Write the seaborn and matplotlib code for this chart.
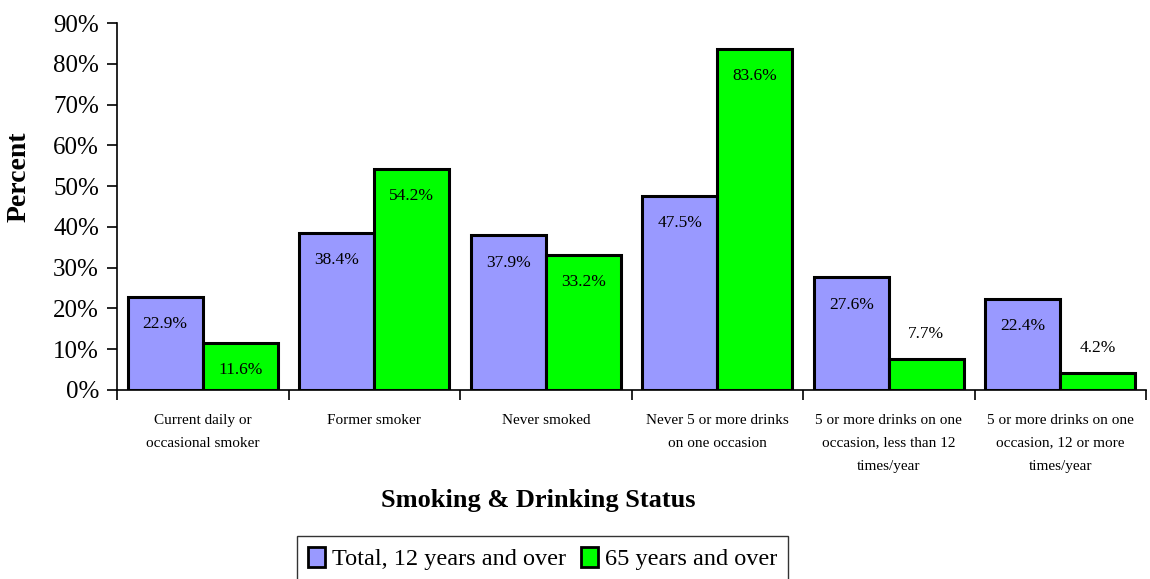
import numpy as np
import pandas as pd
import seaborn as sns
from matplotlib import pyplot as plt
from matplotlib.patches import Patch

# --------------------------- data ------------------------------- #
categories = [
    "Current daily or\noccasional smoker",
    "Former smoker",
    "Never smoked",
    "Never 5 or more drinks\non one occasion",
    "5 or more drinks on one\noccasion, less than 12\ntimes/year",
    "5 or more drinks on one\noccasion, 12 or more\ntimes/year",
]
groups = ["Total, 12 years and over", "65 years and over"]
total_12_over = [22.9, 38.4, 37.9, 47.5, 27.6, 22.4]
age_65_over = [11.6, 54.2, 33.2, 83.6, 7.7, 4.2]
ytick_vals = [0, 10, 20, 30, 40, 50, 60, 70, 80, 90]
ytick_labels = [f"{v}%" for v in ytick_vals]

colors = {groups[0]: "#9999FF", groups[1]: "#00FF00"}

df = pd.DataFrame({
    "Category": categories * 2,
    "Group": [groups[0]] * len(categories) + [groups[1]] * len(categories),
    "Percent": total_12_over + age_65_over,
})

# --------------------------- plot ------------------------------- #
sns.set_theme(style="white")
plt.rcParams['font.family'] = ['Liberation Serif', 'DejaVu Serif']
plt.rcParams.update({'text.color': 'black', 'axes.labelcolor': 'black',
                     'xtick.color': 'black', 'ytick.color': 'black'})

fig = plt.figure(figsize=(11.5, 5.79), dpi=100)
ax = fig.add_axes([117 / 1150, 1 - 390 / 579, (1146 - 117) / 1150, (390 - 23) / 579])

sns.barplot(
    data=df, x="Category", y="Percent", hue="Group",
    order=categories, hue_order=groups, palette=colors,
    width=0.875, gap=0, saturation=1,
    edgecolor="black", linewidth=2.2, legend=False, ax=ax,
)

# value labels: inside the bar, or above it for short bars
for cont, vals in zip(ax.containers, [total_12_over, age_65_over]):
    for bar, v in zip(cont, vals):
        cx = bar.get_x() + bar.get_width() / 2
        dy = -19.5 if v > 10 else 18
        ax.annotate(f"{v:.1f}%", (cx, v), xytext=(0, dy), textcoords="offset points",
                    ha="center", va="center", fontsize=12.5, color="black")

# axes styling
ax.set_ylim(0, 90)
ax.set_xlim(-0.5, len(categories) - 0.5)
ax.set_yticks(ytick_vals)
ax.set_yticklabels(ytick_labels, fontsize=18)
ax.tick_params(axis="y", direction="out", length=7, width=1.2, pad=6, left=True)

# tick marks at category boundaries, labels at centres
ax.set_xticks(np.arange(-0.5, len(categories) + 0.5, 1))
ax.set_xticklabels([])
ax.tick_params(axis="x", which="major", direction="out", length=7, width=1.2, bottom=True)
ax.set_xticks(np.arange(len(categories)), minor=True)
ax.set_xticklabels(categories, minor=True, fontsize=11, linespacing=2.0)
ax.tick_params(axis="x", which="minor", length=0, pad=17)

for side in ["top", "right"]:
    ax.spines[side].set_visible(False)
for side in ["left", "bottom"]:
    ax.spines[side].set_color("black")
    ax.spines[side].set_linewidth(1.2)

ax.set_xlabel("")
ax.set_ylabel("Percent", fontsize=20, fontweight="bold")
ax.yaxis.set_label_coords(-0.083, 0.58)

fig.text(538 / 1150, 1 - 500 / 579, "Smoking & Drinking Status",
         ha="center", va="center", fontsize=19, fontweight="bold")

handles = [Patch(facecolor=colors[g], edgecolor="black", linewidth=2) for g in groups]
leg = fig.legend(handles, groups, loc="upper left", bbox_to_anchor=(297 / 1150, 1 - 536 / 579),
                 ncol=2, fontsize=17.5, frameon=True, fancybox=False, edgecolor="black",
                 handlelength=0.7, handleheight=0.9, handletextpad=0.3, columnspacing=0.6,
                 borderpad=0.45, borderaxespad=0)
leg.get_frame().set_linewidth(1.0)

fig.savefig("out.png", dpi=100, facecolor="white")
